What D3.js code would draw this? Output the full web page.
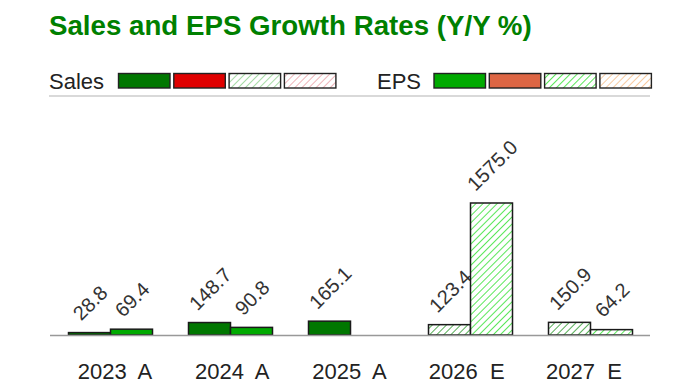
<!DOCTYPE html>
<html><head><meta charset="utf-8">
<script src="https://cdn.jsdelivr.net/npm/d3@7"></script>
<style>body{margin:0;background:#fff;font-family:"Liberation Sans",Arial,sans-serif}</style>
</head><body><svg id="c" width="700" height="387"></svg>
<script>
const categories = ["2023  A","2024  A","2025  A","2026  E","2027  E"];
const estimate = [false,false,false,true,true];
const salesGrowth = [28.8,148.7,165.1,123.4,150.9];
const epsGrowth = [69.4,90.8,null,1575.0,64.2];
const legendSales = ["Sales"], legendEps = ["EPS"];

const svg = d3.select("#c");
const defs = svg.append("defs");
function hatch(id, color, w){
  const p = defs.append("pattern").attr("id",id).attr("patternUnits","userSpaceOnUse")
    .attr("width",5).attr("height",5).attr("patternTransform","rotate(45)");
  p.append("rect").attr("width",5).attr("height",5).attr("fill","#fff");
  p.append("line").attr("x1",0).attr("y1",0).attr("x2",0).attr("y2",5)
    .attr("stroke",color).attr("stroke-width",w);
}
hatch("hg","#22e022",1.5); hatch("hgs","#2a9a2a",1.6); hatch("hgl","#88d088",1.5); hatch("hr","#e89aa0",1.5); hatch("ho","#f5b880",1.5);

svg.append("text").attr("x",49).attr("y",35).attr("fill","#008000")
  .attr("font-size",27.7).attr("font-weight","bold").text("Sales and EPS Growth Rates (Y/Y %)");

// legend
const legFills = {sales:["#007700","#e00000","url(#hgl)","url(#hr)"], eps:["#00aa00","#dd6644","url(#hg)","url(#ho)"]};
function legend(x0, label, fills, sx){
  svg.append("text").attr("x",x0).attr("y",89).attr("font-size",22).attr("fill","#222").text(label);
  fills.forEach((f,i)=>{
    svg.append("rect").attr("x",sx+i*55.3).attr("y",73.5).attr("width",51.5).attr("height",14.5)
      .attr("fill",f).attr("stroke","#222").attr("stroke-width",1.4);
  });
}
legend(49, legendSales[0], legFills.sales, 118.5);
legend(377, legendEps[0], legFills.eps, 434);
svg.append("line").attr("x1",49).attr("x2",650).attr("y1",96).attr("y2",96).attr("stroke","#ccc").attr("stroke-width",1.5);

const x = d3.scaleBand().domain(categories).range([50,650]);
const y = d3.scaleLinear().domain([0,1575]).range([335,203]);
const bw = 42;

const data = categories.map((c,i)=>({c,i,s:salesGrowth[i],e:epsGrowth[i],est:estimate[i]}));
const g = svg.append("g");
data.forEach(d=>{
  const cx = x(d.c)+x.bandwidth()/2;
  const items = [{v:d.s,x0:cx-bw,fill:d.est?"url(#hgs)":"#007700"},{v:d.e,x0:cx,fill:d.est?"url(#hg)":"#00aa00"}];
  items.forEach(it=>{
    if(it.v==null) return;
    g.append("rect").attr("x",it.x0+0.5).attr("y",y(it.v)).attr("width",bw)
      .attr("height",Math.max(1,y(0)-y(it.v))).attr("fill",it.fill).attr("stroke","#1a1a1a").attr("stroke-width",1.5);
    const t = g.append("text").attr("font-size",20).attr("fill","#333").text(it.v.toFixed(1));
    const L = t.node().getComputedTextLength();
    const tx = it.x0+bw/2 - L*0.35 + 6, ty = y(it.v)-11;
    t.attr("transform",`translate(${tx},${ty}) rotate(-45)`);
  });
});
svg.append("line").attr("x1",50).attr("x2",650).attr("y1",335.5).attr("y2",335.5).attr("stroke","#999").attr("stroke-width",1.5);

const xl = d3.scalePoint().domain(categories).range([115,584]);
svg.append("g").selectAll("text").data(categories).join("text")
  .attr("x",d=>xl(d)).attr("y",379).attr("text-anchor","middle").attr("font-size",22).attr("fill","#222")
  .attr("xml:space","preserve").style("white-space","pre").text(d=>d);
</script></body></html>
